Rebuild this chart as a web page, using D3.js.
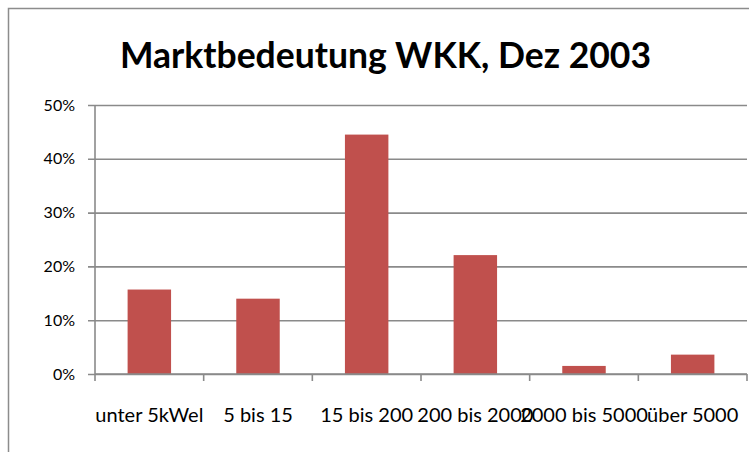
<!DOCTYPE html>
<html>
<head>
<meta charset="utf-8">
<script src="https://cdn.jsdelivr.net/npm/d3@7"></script>
<style>
  body { margin: 0; background: #fff; }
</style>
</head>
<body>
<div id="chart"></div>
<script>
// chart data
var categories = ["unter 5kWel", "5 bis 15", "15 bis 200", "200 bis 2000", "2000 bis 5000", "über 5000"];
var shares = [0.157, 0.140, 0.445, 0.221, 0.015, 0.036];
var yTicks = [0, 0.1, 0.2, 0.3, 0.4, 0.5];
var chartTitle = "Marktbedeutung WKK, Dez 2003";

// set the dimensions and margins of the graph
var margin = { top: 105, right: 2, bottom: 78, left: 95 },
    width = 749 - margin.left - margin.right,
    height = 452 - margin.top - margin.bottom;

var svg = d3.select("#chart")
    .append("svg")
    .attr("width", 749)
    .attr("height", 452);

// outer chart frame (runs off the right and bottom edges)
svg.append("rect")
    .attr("x", 8.5)
    .attr("y", 8.5)
    .attr("width", 900)
    .attr("height", 600)
    .attr("fill", "none")
    .attr("stroke", "#8c8c8c")
    .attr("stroke-width", 1.5);

// Add Chart Title
svg.append("text")
    .attr("text-anchor", "middle")
    .attr("x", 385.5)
    .attr("y", 68)
    .attr("textLength", 531)
    .attr("lengthAdjust", "spacingAndGlyphs")
    .style("font-family", "Lato, 'Open Sans', sans-serif")
    .style("font-weight", "bold")
    .style("font-size", "36px")
    .style("fill", "#000")
    .text(chartTitle);

var g = svg.append("g")
    .attr("transform", "translate(" + margin.left + "," + margin.top + ")");

// category scale (full slots) and bar scale (gap width 150%)
var xCat = d3.scaleBand()
    .domain(categories)
    .range([0, width]);

var xBar = d3.scaleBand()
    .domain(categories)
    .range([0, width])
    .paddingInner(0.6)
    .paddingOuter(0.3);

var y = d3.scaleLinear()
    .domain([0, 0.5])
    .range([height, 0]);

// Y gridlines + labels
var yAxis = g.append("g")
    .call(d3.axisLeft(y)
        .tickValues(yTicks)
        .tickFormat(d3.format(".0%"))
        .tickSize(-width)
        .tickPadding(20));
yAxis.select(".domain").remove();
yAxis.selectAll(".tick line")
    .attr("x1", -7)
    .attr("x2", width)
    .attr("stroke", "#8a8a8a")
    .attr("stroke-width", 1.6);
yAxis.selectAll(".tick text")
    .style("font-family", "Lato, 'Open Sans', sans-serif")
    .style("font-size", "16px")
    .style("fill", "#000");

// vertical axis line
g.append("line")
    .attr("x1", 0).attr("x2", 0)
    .attr("y1", y(0.5)).attr("y2", y(0))
    .attr("stroke", "#8a8a8a")
    .attr("stroke-width", 1.6);

// Draw the bars
g.selectAll(".bar")
    .data(shares)
    .enter()
    .append("rect")
    .attr("class", "bar")
    .attr("x", function (d, i) { return xBar(categories[i]); })
    .attr("y", function (d) { return y(d); })
    .attr("width", xBar.bandwidth())
    .attr("height", function (d) { return y(0) - y(d); })
    .attr("fill", "#c0504d");

// X axis labels at category centres
var xAxis = g.append("g")
    .attr("transform", "translate(0," + height + ")")
    .call(d3.axisBottom(xCat).tickSize(0).tickPadding(34));
xAxis.select(".domain").remove();
xAxis.selectAll(".tick text")
    .style("font-family", "Lato, 'Open Sans', sans-serif")
    .style("font-size", "20px")
    .style("fill", "#000");

// X axis line
g.append("line")
    .attr("x1", 0).attr("x2", width)
    .attr("y1", y(0)).attr("y2", y(0))
    .attr("stroke", "#8a8a8a")
    .attr("stroke-width", 1.6);

// tick marks on category boundaries
var bounds = categories.map(function (c) { return xCat(c); }).concat([width]);
g.selectAll(".xtick")
    .data(bounds)
    .enter()
    .append("line")
    .attr("class", "xtick")
    .attr("x1", function (d) { return d; })
    .attr("x2", function (d) { return d; })
    .attr("y1", y(0))
    .attr("y2", y(0) + 7)
    .attr("stroke", "#8a8a8a")
    .attr("stroke-width", 1.6);
</script>
</body>
</html>
